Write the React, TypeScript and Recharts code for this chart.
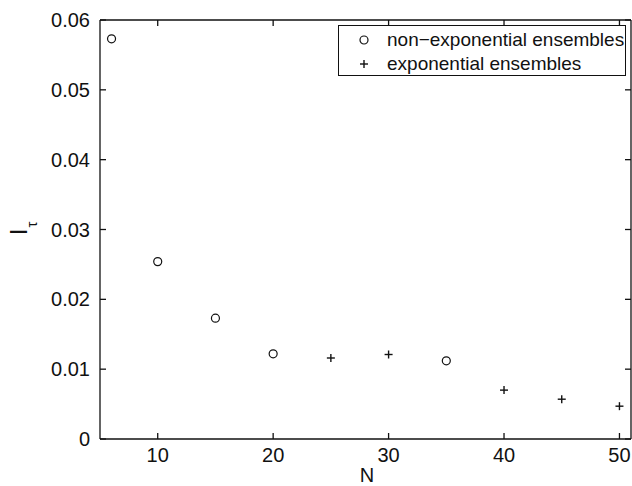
import React from 'react';
import { ScatterChart, Scatter, XAxis, YAxis } from 'recharts';

// data
const nonExpN = [6, 10, 15, 20, 35];
const nonExpI = [0.0573, 0.0254, 0.0173, 0.0122, 0.0112];
const expN = [25, 30, 40, 45, 50];
const expI = [0.0116, 0.0121, 0.007, 0.0057, 0.0047];

const xTicks = [10, 20, 30, 40, 50];
const yTicks = [0, 0.01, 0.02, 0.03, 0.04, 0.05, 0.06];

const nonExpData = nonExpN.map((n, i) => ({ n, v: nonExpI[i] }));
const expData = expN.map((n, i) => ({ n, v: expI[i] }));

const FONT = '"Liberation Sans", Arial, Helvetica, sans-serif';
const INK = '#111';

const CircleMark = (p: any) => (
  <circle cx={p.cx} cy={p.cy} r={4} fill="none" stroke={INK} strokeWidth={1.2} />
);

const PlusMark = (p: any) => (
  <g stroke={INK} strokeWidth={1.4}>
    <line x1={p.cx - 4} x2={p.cx + 4} y1={p.cy} y2={p.cy} />
    <line x1={p.cx} x2={p.cx} y1={p.cy - 4} y2={p.cy + 4} />
  </g>
);

const LegendBox = () => (
  <div
    style={{
      position: 'absolute',
      left: 338,
      top: 25,
      width: 288,
      height: 51,
      border: `1.3px solid ${INK}`,
      background: '#fff',
      fontFamily: FONT,
      fontSize: 19,
      color: INK,
      boxSizing: 'border-box',
    }}
  >
    <svg width={20} height={48} style={{ position: 'absolute', left: 15, top: 0 }}>
      <circle cx={10} cy={14} r={4} fill="none" stroke={INK} strokeWidth={1.2} />
      <line x1={6} x2={14} y1={38} y2={38} stroke={INK} strokeWidth={1.4} />
      <line x1={10} x2={10} y1={34} y2={42} stroke={INK} strokeWidth={1.4} />
    </svg>
    <div style={{ position: 'absolute', left: 48, top: 2, lineHeight: '24px', whiteSpace: 'nowrap' }}>
      non−exponential ensembles
    </div>
    <div style={{ position: 'absolute', left: 48, top: 26, lineHeight: '24px', whiteSpace: 'nowrap' }}>
      exponential ensembles
    </div>
  </div>
);

const AxisTitles = () => (
  <svg width={632} height={486} style={{ position: 'absolute', left: 0, top: 0, pointerEvents: 'none' }}>
    <text x={367} y={482} textAnchor="middle" fontSize={20} fontFamily={FONT} fill={INK}>
      N
    </text>
    <g transform="translate(27 235) rotate(-90)">
      <text x={0} y={0} fontSize={23} fontFamily={FONT} fill={INK}>
        I
        <tspan fontSize={15} dx={1} dy={10}>
          τ
        </tspan>
      </text>
    </g>
  </svg>
);

const blank = () => '';

export default function App() {
  return (
    <div style={{ position: 'absolute', left: 0, top: 0, width: 632, height: 486, background: '#fff' }}>
      <ScatterChart width={632} height={486} margin={{ top: 19, right: 0, bottom: 0, left: 40 }}>
        <XAxis
          xAxisId="b"
          type="number"
          dataKey="n"
          domain={[5, 51]}
          ticks={xTicks}
          allowDataOverflow
          height={47}
          stroke={INK}
          strokeWidth={1.3}
          tickSize={-6}
          tickMargin={15}
          tick={{ fill: INK, fontSize: 20, fontFamily: FONT }}
        />
        <XAxis
          xAxisId="t"
          orientation="top"
          type="number"
          dataKey="n"
          domain={[5, 51]}
          ticks={xTicks}
          allowDataOverflow
          height={1}
          stroke={INK}
          strokeWidth={1.3}
          tickSize={-6}
          tickFormatter={blank}
        />
        <YAxis
          yAxisId="l"
          type="number"
          dataKey="v"
          domain={[0, 0.06]}
          ticks={yTicks}
          allowDataOverflow
          width={60}
          stroke={INK}
          strokeWidth={1.3}
          tickSize={-6}
          tickMargin={16}
          tickFormatter={(v: number) => (v === 0 ? '0' : v.toFixed(2))}
          tick={{ fill: INK, fontSize: 20, fontFamily: FONT }}
        />
        <YAxis
          yAxisId="r"
          orientation="right"
          type="number"
          dataKey="v"
          domain={[0, 0.06]}
          ticks={yTicks}
          allowDataOverflow
          width={1}
          stroke={INK}
          strokeWidth={1.3}
          tickSize={-6}
          tickFormatter={blank}
        />
        {/* both axis pairs share the same domain; binding each series to one of the
            top/right axes makes Recharts draw the closed MATLAB-style frame */}
        <Scatter
          name="non−exponential ensembles"
          data={nonExpData}
          xAxisId="t"
          yAxisId="l"
          shape={CircleMark}
          isAnimationActive={false}
        />
        <Scatter
          name="exponential ensembles"
          data={expData}
          xAxisId="b"
          yAxisId="r"
          shape={PlusMark}
          isAnimationActive={false}
        />
      </ScatterChart>
      <LegendBox />
      <AxisTitles />
    </div>
  );
}
